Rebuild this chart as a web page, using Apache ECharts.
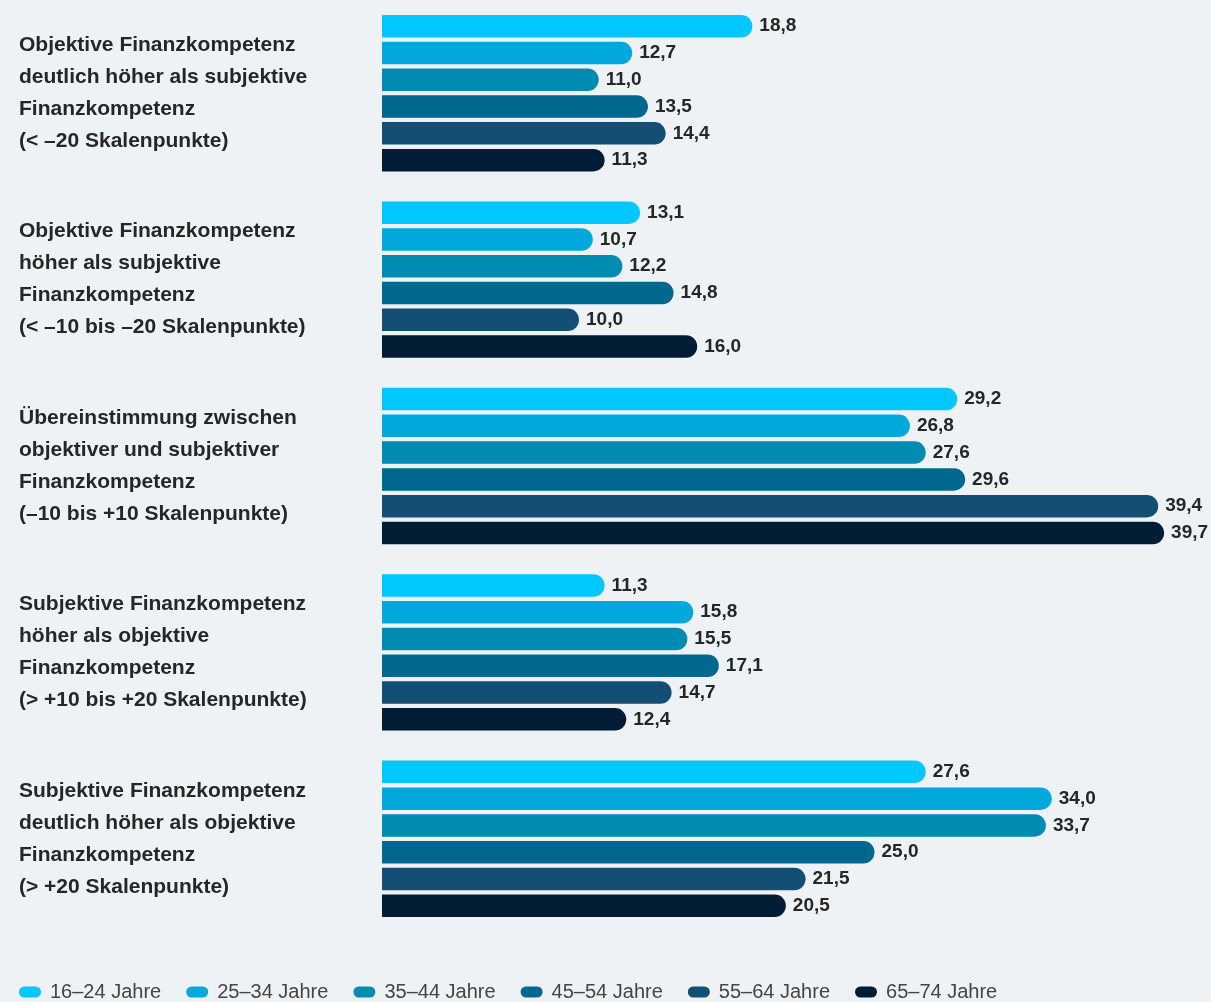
<!DOCTYPE html>
<html><head><meta charset="utf-8">
<script src="https://cdn.jsdelivr.net/npm/echarts@6/dist/echarts.min.js"></script>
<style>html,body{margin:0;padding:0;background:#eef2f5;}#c{width:1211px;height:1002px;}</style>
</head><body><div id="c"></div>
<script>
const categories = [
  "Objektive Finanzkompetenz\ndeutlich höher als subjektive\nFinanzkompetenz\n(< –20 Skalenpunkte)",
  "Objektive Finanzkompetenz\nhöher als subjektive\nFinanzkompetenz\n(< –10 bis –20 Skalenpunkte)",
  "Übereinstimmung zwischen\nobjektiver und subjektiver\nFinanzkompetenz\n(–10 bis +10 Skalenpunkte)",
  "Subjektive Finanzkompetenz\nhöher als objektive\nFinanzkompetenz\n(> +10 bis +20 Skalenpunkte)",
  "Subjektive Finanzkompetenz\ndeutlich höher als objektive\nFinanzkompetenz\n(> +20 Skalenpunkte)"
];
const seriesNames = ["16–24 Jahre","25–34 Jahre","35–44 Jahre","45–54 Jahre","55–64 Jahre","65–74 Jahre"];
const age16_24 = [18.8, 13.1, 29.2, 11.3, 27.6];
const age25_34 = [12.7, 10.7, 26.8, 15.8, 34.0];
const age35_44 = [11.0, 12.2, 27.6, 15.5, 33.7];
const age45_54 = [13.5, 14.8, 29.6, 17.1, 25.0];
const age55_64 = [14.4, 10.0, 39.4, 14.7, 21.5];
const age65_74 = [11.3, 16.0, 39.7, 12.4, 20.5];
const colors = ["#00c8ff","#00a8dc","#008bb2","#00678f","#134f75","#001d35"];
const allData = [age16_24, age25_34, age35_44, age45_54, age55_64, age65_74];

const FONT = "'Liberation Sans', sans-serif";
const chart = echarts.init(document.getElementById('c'), null, {renderer:'canvas'});
chart.setOption({
  backgroundColor: '#eef2f5',
  animation: false,
  color: colors,
  grid: {left: 382, right: 41, top: -2, height: 934, containLabel: false},
  xAxis: {type: 'value', min: 0, max: 40, show: false},
  yAxis: {
    type: 'category', data: categories, inverse: true,
    axisLine: {show: false}, axisTick: {show: false},
    axisLabel: {
      align: 'left', margin: 363, fontFamily: FONT, fontWeight: 'bold',
      fontSize: 21, lineHeight: 32, color: '#262626'
    }
  },
  legend: {
    left: 14, bottom: -5, itemWidth: 22, itemHeight: 11, itemGap: 25,
    icon: 'path://M5.5,0 H16.5 A5.5,5.5 0 0 1 16.5,11 H5.5 A5.5,5.5 0 0 1 5.5,0 Z',
    textStyle: {fontFamily: FONT, fontSize: 20, color: '#444', padding: [0,0,0,4]},
    data: seriesNames
  },
  series: seriesNames.map((n, i) => ({
    name: n, type: 'bar', data: allData[i], barWidth: 22.5, barGap: '19%',
    itemStyle: {color: colors[i], borderRadius: [0, 11.25, 11.25, 0]},
    label: {
      show: true, position: 'right', distance: 7,
      fontFamily: FONT, fontWeight: 'bold', fontSize: 19, color: '#262626',
      formatter: p => p.value.toFixed(1).replace('.', ',')
    }
  }))
});
</script></body></html>
